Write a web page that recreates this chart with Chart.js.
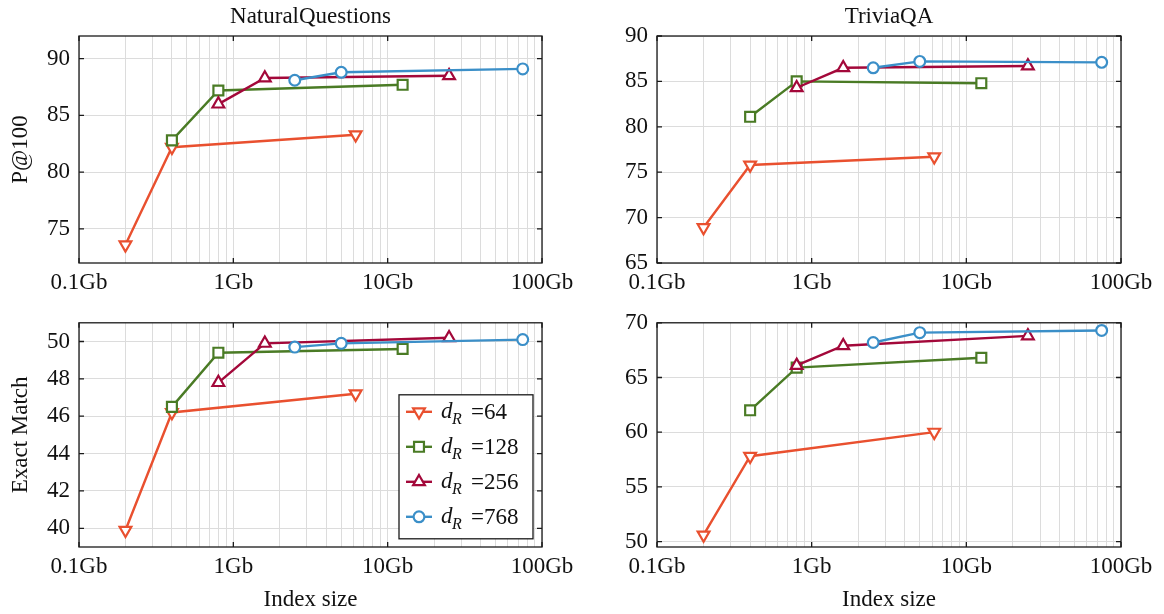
<!DOCTYPE html>
<html>
<head>
<meta charset="utf-8">
<script src="https://cdn.jsdelivr.net/npm/chart.js@4.4.1/dist/chart.umd.min.js"></script>
<style>
  body { margin: 0; background: #fff; }
  #page { position: relative; width: 1164px; height: 614px; overflow: hidden; background: #fff; }
  canvas { position: absolute; }
</style>
</head>
<body>
<div id="page">
  <canvas id="nqP" width="582" height="300" style="left:0;top:0"></canvas>
  <canvas id="tqP" width="582" height="300" style="left:582px;top:0"></canvas>
  <canvas id="nqEM" width="582" height="314" style="left:0;top:300px"></canvas>
  <canvas id="tqEM" width="582" height="314" style="left:582px;top:300px"></canvas>
</div>
<script>
/* ---------- Data ---------- */
const seriesNames = ["64", "128", "256", "768"];

// index size in Gb for each d_R
const sizes64 = [0.2, 0.4, 6.2];
const sizes128 = [0.4, 0.8, 12.5];
const sizes256 = [0.8, 1.6, 25];
const sizes768 = [2.5, 5, 75];

// NaturalQuestions P@100
const nqP64 = [73.6, 82.2, 83.3];
const nqP128 = [82.8, 87.2, 87.7];
const nqP256 = [86.0, 88.3, 88.5];
const nqP768 = [88.1, 88.8, 89.1];

// TriviaQA P@100
const tqP64 = [68.9, 75.8, 76.7];
const tqP128 = [81.1, 85.0, 84.8];
const tqP256 = [84.3, 86.5, 86.7];
const tqP768 = [86.5, 87.2, 87.1];

// NaturalQuestions Exact Match
const nqEM64 = [39.9, 46.2, 47.2];
const nqEM128 = [46.5, 49.4, 49.6];
const nqEM256 = [47.8, 49.9, 50.2];
const nqEM768 = [49.7, 49.9, 50.1];

// TriviaQA Exact Match
const tqEM64 = [50.6, 57.8, 60.0];
const tqEM128 = [62.0, 65.9, 66.8];
const tqEM256 = [66.1, 67.9, 68.8];
const tqEM768 = [68.2, 69.1, 69.3];

const xMajorTicks = [0.1, 1, 10, 100];
const xTickLabels = ["0.1Gb", "1Gb", "10Gb", "100Gb"];
const nqPTicks = [75, 80, 85, 90];
const tqPTicks = [65, 70, 75, 80, 85, 90];
const nqEMTicks = [40, 42, 44, 46, 48, 50];
const tqEMTicks = [50, 55, 60, 65, 70];

/* ---------- Styles ---------- */
const FONT = "'Liberation Serif', 'Times New Roman', serif";
Chart.defaults.font.family = FONT;
Chart.defaults.color = "#111";

const colors = ["#E9502F", "#4A7B25", "#A3083A", "#3B8FC8"];
const markers = [
    { style: "triangle", rotation: 180, radius: 6.8 },
    { style: "rect", rotation: 0, radius: 7 },
    { style: "triangle", rotation: 0, radius: 6.8 },
    { style: "circle", rotation: 0, radius: 5.4 }
];
const GRID = "#dcdcdc";

// minor + major positions for the log grid
const xGridValues = [];
xMajorTicks.slice(0, -1).forEach(base => {
    for (let k = 1; k < 10; k++) xGridValues.push(+(base * k).toPrecision(3));
});
xGridValues.push(100);

/* ---------- Plugins ---------- */
const framePlugin = {
    id: "frame",
    beforeDatasetsDraw(chart) {
        const { ctx, chartArea: a, scales } = chart;
        ctx.save();
        ctx.strokeStyle = "#1a1a1a";
        ctx.lineWidth = 1.3;
        ctx.beginPath();
        xMajorTicks.forEach(v => {
            const px = scales.x.getPixelForValue(v);
            ctx.moveTo(px, a.bottom); ctx.lineTo(px, a.bottom - 5);
            ctx.moveTo(px, a.top); ctx.lineTo(px, a.top + 5);
        });
        scales.y.ticks.forEach(t => {
            const py = scales.y.getPixelForValue(t.value);
            ctx.moveTo(a.left, py); ctx.lineTo(a.left + 5, py);
            ctx.moveTo(a.right, py); ctx.lineTo(a.right - 5, py);
        });
        ctx.stroke();
        ctx.strokeRect(a.left, a.top, a.right - a.left, a.bottom - a.top);
        ctx.restore();
    },
    afterDraw(chart, args, opts) {
        if (!opts.title) return;
        const { ctx, chartArea: a } = chart;
        ctx.save();
        ctx.font = "23px " + FONT;
        ctx.fillStyle = "#111";
        ctx.textAlign = "center";
        ctx.textBaseline = "alphabetic";
        ctx.fillText(opts.title, (a.left + a.right) / 2, a.top - 13);
        ctx.restore();
    }
};

function drawMarker(ctx, m, x, y) {
    ctx.beginPath();
    if (m.style === "circle") {
        ctx.arc(x, y, m.radius, 0, Math.PI * 2);
    } else if (m.style === "rect") {
        const s = m.radius * Math.SQRT1_2;
        ctx.rect(x - s, y - s, 2 * s, 2 * s);
    } else {
        const dir = m.rotation ? -1 : 1;
        const r = m.radius;
        ctx.moveTo(x, y - dir * r);
        ctx.lineTo(x + r * 0.866, y + dir * r / 2);
        ctx.lineTo(x - r * 0.866, y + dir * r / 2);
        ctx.closePath();
    }
    ctx.fill();
    ctx.stroke();
}

const legendPlugin = {
    id: "dimLegend",
    afterDatasetsDraw(chart, args, opts) {
        if (!opts.show) return;
        const { ctx, chartArea: a } = chart;
        const left = a.left + 320, top = a.top + 72, w = 134, h = 144;
        ctx.save();
        ctx.fillStyle = "#fff";
        ctx.fillRect(left, top, w, h);
        ctx.strokeStyle = "#1a1a1a";
        ctx.lineWidth = 1.3;
        ctx.strokeRect(left, top, w, h);
        seriesNames.forEach((name, i) => {
            const cy = top + 17 + 35 * i;
            ctx.strokeStyle = colors[i];
            ctx.lineWidth = 2.4;
            ctx.beginPath();
            ctx.moveTo(left + 7, cy); ctx.lineTo(left + 33, cy);
            ctx.stroke();
            ctx.lineWidth = 2.2;
            ctx.fillStyle = "#fff";
            drawMarker(ctx, markers[i], left + 20, cy);
            ctx.fillStyle = "#111";
            ctx.textBaseline = "alphabetic";
            ctx.textAlign = "left";
            ctx.font = "italic 23px " + FONT;
            ctx.fillText("d", left + 42, cy + 6);
            ctx.font = "italic 16px " + FONT;
            ctx.fillText("R", left + 53, cy + 12);
            ctx.font = "23px " + FONT;
            ctx.fillText("=" + name, left + 72, cy + 7);
        });
        ctx.restore();
    }
};

/* ---------- Charts ---------- */
function makeDatasets(ys) {
    const sizes = [sizes64, sizes128, sizes256, sizes768];
    return ys.map((vals, i) => ({
        label: "d_R=" + seriesNames[i],
        data: vals.map((v, j) => ({ x: sizes[i][j], y: v })),
        borderColor: colors[i],
        borderWidth: 2.4,
        pointStyle: markers[i].style,
        rotation: markers[i].rotation,
        pointRadius: markers[i].radius,
        pointHoverRadius: markers[i].radius,
        pointBackgroundColor: "#fff",
        pointBorderColor: colors[i],
        pointBorderWidth: 2.2,
        tension: 0,
        order: 3 - i
    }));
}

function makePanel(id, cfg) {
    return new Chart(document.getElementById(id), {
        type: "line",
        data: { datasets: makeDatasets(cfg.ys) },
        options: {
            responsive: false,
            animation: false,
            events: [],
            layout: { padding: { left: 0, top: cfg.padTop, right: cfg.padRight, bottom: 0 } },
            plugins: {
                legend: { display: false },
                tooltip: { enabled: false },
                frame: { title: cfg.title },
                dimLegend: { show: !!cfg.legend }
            },
            scales: {
                x: {
                    type: "logarithmic",
                    min: 0.1,
                    max: 100,
                    afterBuildTicks: s => { s.ticks = xGridValues.map(v => ({ value: v })); },
                    afterFit: s => { s.height = cfg.xHeight; },
                    grid: { color: GRID, lineWidth: 1, drawTicks: false },
                    border: { display: false },
                    ticks: {
                        autoSkip: false,
                        maxRotation: 0,
                        padding: 6,
                        font: { size: 23 },
                        color: "#111",
                        callback: v => {
                            const k = xMajorTicks.findIndex(m => Math.abs(m - v) < 1e-9);
                            return k >= 0 ? xTickLabels[k] : "";
                        }
                    },
                    title: {
                        display: !!cfg.xTitle,
                        text: cfg.xTitle || "",
                        font: { size: 23 },
                        color: "#111",
                        padding: { top: 0, bottom: 0 }
                    }
                },
                y: {
                    type: "linear",
                    min: cfg.yMin,
                    max: cfg.yMax,
                    afterBuildTicks: s => { s.ticks = cfg.yTicks.map(v => ({ value: v })); },
                    afterFit: s => { s.width = cfg.yWidth; },
                    grid: { color: GRID, lineWidth: 1, drawTicks: false },
                    border: { display: false },
                    ticks: { padding: 9, font: { size: 23 }, color: "#111" },
                    title: {
                        display: !!cfg.yTitle,
                        text: cfg.yTitle || "",
                        font: { size: 23 },
                        color: "#111",
                        padding: { top: 7, bottom: 0 }
                    }
                }
            }
        },
        plugins: [framePlugin, legendPlugin]
    });
}

makePanel("nqP", {
    ys: [nqP64, nqP128, nqP256, nqP768],
    title: "NaturalQuestions", yTitle: "P@100",
    yMin: 72, yMax: 92, yTicks: nqPTicks,
    padTop: 36, padRight: 40, xHeight: 37, yWidth: 79
});
makePanel("tqP", {
    ys: [tqP64, tqP128, tqP256, tqP768],
    title: "TriviaQA",
    yMin: 65, yMax: 90, yTicks: tqPTicks,
    padTop: 36, padRight: 43, xHeight: 37, yWidth: 75
});
makePanel("nqEM", {
    ys: [nqEM64, nqEM128, nqEM256, nqEM768],
    yTitle: "Exact Match", xTitle: "Index size", legend: true,
    yMin: 39, yMax: 51, yTicks: nqEMTicks,
    padTop: 19, padRight: 40, xHeight: 67, yWidth: 79
});
makePanel("tqEM", {
    ys: [tqEM64, tqEM128, tqEM256, tqEM768],
    xTitle: "Index size",
    yMin: 49.5, yMax: 70, yTicks: tqEMTicks,
    padTop: 19, padRight: 43, xHeight: 67, yWidth: 75
});
</script>
</body>
</html>
